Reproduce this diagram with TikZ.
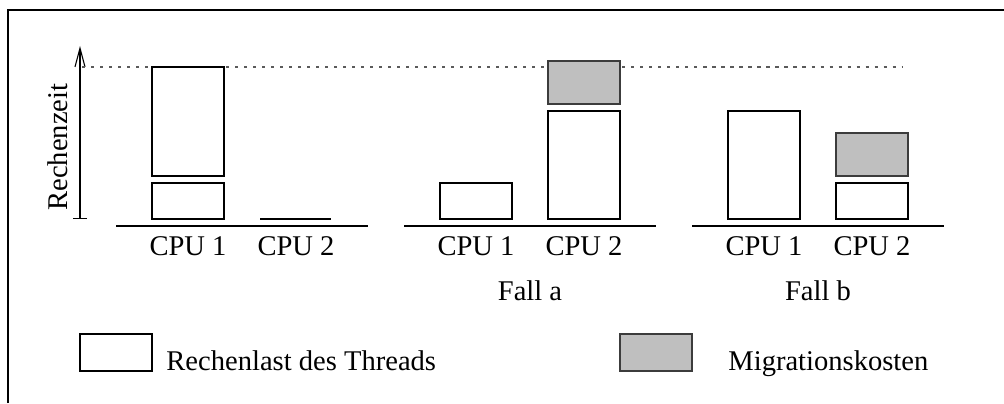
\documentclass[tikz,border=0pt]{standalone}
\usepackage{fontspec}
\setmainfont{Liberation Serif}
\definecolor{miggray}{RGB}{191, 191, 191}
\definecolor{migborder}{RGB}{60, 60, 60}
\definecolor{limitgray}{RGB}{90, 90, 90}
\usetikzlibrary{arrows.meta, positioning}
\tikzset{
  lastbox/.style={draw, fill=white, line width=0.6pt, minimum width=1.152cm, inner sep=0pt, outer sep=0pt, anchor=south},
  migbox/.style={lastbox, draw=migborder, fill=miggray, line width=0.9pt},
  lbl/.style={font=\fontsize{13}{15}\selectfont, anchor=base, inner sep=0pt},
}

\begin{document}
\begin{tikzpicture}
  \useasboundingbox (0,0) rectangle (16.064,6.448);
  % Rahmen
  \draw[line width=0.5pt] (0.128,0) |- (16.064,6.288);

  % Achse
  \coordinate (axisbot) at (1.28,2.944);
  \coordinate (axistop) at (1.28,5.712);
  \draw[line width=0.5pt, {Bar[width=0.224cm]}-{Straight Barb[length=0.3cm, width=0.16cm]}] (axisbot) -- (axistop);
  \node[lbl, rotate=90] (zeit) at (1.088,4.096) {Rechenzeit};

  % Grenze
  \coordinate (limL) at (1.312,5.376);
  \coordinate (limR) at (14.432,5.376);
  \draw[limitgray, line width=0.5pt, dash pattern=on 1.4pt off 2.7pt] (limL) -- (limR);

  % Ausgangslage
  \node[lastbox, minimum height=0.576cm] (s1) at (3.008,2.944) {};
  \node[lastbox, minimum height=1.744cm, above=0.112cm of s1] (s1top) {};
  \coordinate (s2l) at (4.16,2.944);
  \coordinate (s2r) at (5.296,2.944);
  \draw[line width=0.6pt] (s2l) -- (s2r);
  \coordinate (s0l) at (1.856,2.832);
  \coordinate (s0r) at (5.888,2.832);
  \draw[line width=0.6pt] (s0l) -- (s0r);
  \node[lbl] (s1cpu) at (3.008,2.368) {CPU 1};
  \node[lbl] (s2cpu) at (4.736,2.368) {CPU 2};

  % Fall a
  \node[lastbox, minimum height=0.576cm] (a1) at (7.616,2.944) {};
  \node[lastbox, minimum height=1.728cm] (a2) at (9.344,2.944) {};
  \node[migbox, minimum height=0.688cm, above=0.112cm of a2] (a2mig) {};
  \coordinate (a0l) at (6.464,2.832);
  \coordinate (a0r) at (10.496,2.832);
  \draw[line width=0.6pt] (a0l) -- (a0r);
  \node[lbl] (a1cpu) at (7.616,2.368) {CPU 1};
  \node[lbl] (a2cpu) at (9.344,2.368) {CPU 2};
  \node[lbl] (falla) at (8.48,1.648) {Fall a};

  % Fall b
  \node[lastbox, minimum height=1.728cm] (b1) at (12.224,2.944) {};
  \node[lastbox, minimum height=0.576cm] (b2) at (13.952,2.944) {};
  \node[migbox, minimum height=0.688cm, above=0.112cm of b2] (b2mig) {};
  \coordinate (b0l) at (11.072,2.832);
  \coordinate (b0r) at (15.104,2.832);
  \draw[line width=0.6pt] (b0l) -- (b0r);
  \node[lbl] (b1cpu) at (12.224,2.368) {CPU 1};
  \node[lbl] (b2cpu) at (13.952,2.368) {CPU 2};
  \node[lbl] (fallb) at (13.088,1.648) {Fall b};

  % Legende
  \node[lastbox, minimum height=0.592cm, anchor=south west] (leglast) at (1.28,0.512) {};
  \node[lbl, anchor=base west] (leglasttext) at (2.656,0.528) {Rechenlast des Threads};
  \node[migbox, minimum height=0.592cm, anchor=south west] (legmig) at (9.92,0.512) {};
  \node[lbl, anchor=base west] (legmigtext) at (11.648,0.528) {Migrationskosten};
\end{tikzpicture}
\end{document}
